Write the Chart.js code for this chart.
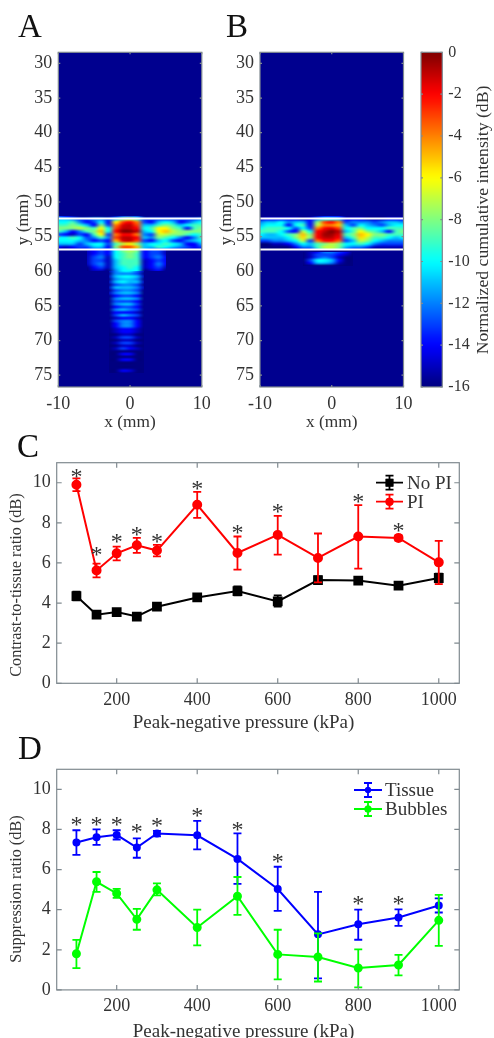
<!DOCTYPE html>
<html>
<head>
<meta charset="utf-8">
<script src="https://cdn.jsdelivr.net/npm/chart.js@4"></script>
<style>
  html, body { margin: 0; padding: 0; background: #fff; }
  #page { position: relative; width: 494px; height: 1038px; overflow: hidden; filter: blur(0.5px); }
  #page canvas { position: absolute; }
  .panel { position: absolute; font: 33px "Liberation Serif", serif; line-height: 33px; color: #111; }
</style>
</head>
<body>
<div id="page">
  <div class="panel" style="left:18px;top:10px">A</div>
  <div class="panel" style="left:226px;top:10px">B</div>
  <div class="panel" style="left:17px;top:430px">C</div>
  <div class="panel" style="left:18px;top:732px">D</div>
  <canvas id="chartA"></canvas>
  <canvas id="chartB"></canvas>
  <canvas id="chartBar"></canvas>
  <canvas id="chartC"></canvas>
  <canvas id="chartD"></canvas>
</div>
<script>
// line chart data (kPa, dB)
const pressures = [100, 150, 200, 250, 300, 400, 500, 600, 700, 800, 900, 1000];
const pressureTicks = [200, 400, 600, 800, 1000];
const ratioTicks = [0, 2, 4, 6, 8, 10];

const noPi = [4.35, 3.42, 3.55, 3.33, 3.82, 4.28, 4.6, 4.08, 5.15, 5.12, 4.87, 5.25];
const noPiLow = [4.13, 3.34, 3.47, 3.25, 3.72, 4.18, 4.38, 3.82, 4.98, 5.0, 4.74, 5.03];
const noPiHigh = [4.57, 3.5, 3.63, 3.41, 3.92, 4.38, 4.83, 4.38, 5.33, 5.24, 5.0, 5.47];
const pi = [9.9, 5.63, 6.48, 6.88, 6.62, 8.9, 6.5, 7.4, 6.25, 7.32, 7.25, 6.03];
const piLow = [9.58, 5.28, 6.13, 6.5, 6.33, 8.25, 5.67, 6.42, 5.03, 5.72, 7.12, 4.95];
const piHigh = [10.22, 5.97, 6.82, 7.25, 6.9, 9.55, 7.32, 8.35, 7.47, 8.88, 7.37, 7.1];
const starsCx = [100, 150, 200, 250, 300, 400, 500, 600, 800, 900];
const starsCy = [10.5, 6.62, 7.25, 7.58, 7.25, 9.88, 7.7, 8.72, 9.25, 7.78];

const tissue = [7.35, 7.61, 7.73, 7.1, 7.8, 7.71, 6.53, 5.03, 2.77, 3.27, 3.61, 4.21];
const tissueLow = [6.73, 7.23, 7.5, 6.59, 7.66, 7.01, 5.29, 3.94, 0.57, 2.5, 3.19, 3.86];
const tissueHigh = [7.96, 8.0, 7.96, 7.56, 7.93, 8.43, 7.8, 6.14, 4.89, 4.0, 4.02, 4.56];
const bubbles = [1.8, 5.39, 4.81, 3.52, 4.99, 3.11, 4.67, 1.77, 1.64, 1.09, 1.24, 3.47];
const bubblesLow = [1.09, 4.89, 4.59, 3.0, 4.71, 2.22, 3.74, 0.52, 0.42, 0.13, 0.72, 2.2];
const bubblesHigh = [2.49, 5.88, 5.04, 4.04, 5.31, 4.0, 5.63, 3.0, 2.82, 2.02, 1.75, 4.74];
const starsDx = [100, 150, 200, 250, 300, 400, 500, 600, 800, 900];
const starsDy = [8.41, 8.41, 8.41, 8.08, 8.36, 8.86, 8.18, 6.59, 4.47, 4.47];

// image panels (mm, dB)
const depthTicks = [30, 35, 40, 45, 50, 55, 60, 65, 70, 75];
const lateralTicks = [-10, 0, 10];
const colorTicks = [0, -2, -4, -6, -8, -10, -12, -14, -16];
const colorLevels = [-16, -15, -14, -13, -12, -11, -10, -9, -8, -7, -6, -5, -4, -3, -2, -1, 0];
const windowTop = [52.4, 52.4];
const windowBottom = [56.85, 56.85];

// x = -10..10 every 1 mm, y = 52.0..56.95 every 0.45 mm
const bandA = [
  [-13,-14,-15,-16,-16,-16,-16,-16,-15,-13,-13,-13,-16,-16,-16,-16,-16,-16,-16,-16,-16],
  [-11,-11,-12,-13,-13,-12,-12,-13,-11,-8,-7,-9,-13,-13,-13,-13,-13,-13,-13,-13,-12],
  [-10,-10,-9,-12,-14,-13,-10,-14,-6,-3,-2,-4,-13,-14,-11,-10,-11,-14,-13,-11,-10],
  [-9,-9,-8,-9,-11,-14,-8,-13,-4,-1.5,-1,-3,-11,-11,-9,-8,-9,-11,-10,-9,-9],
  [-8,-8,-8,-7,-8,-9,-6,-10,-3,-1,-1,-2,-10,-9,-6,-6,-8,-9,-14,-9,-8],
  [-9,-11,-14,-12,-9,-8,-5,-10,-2,0,0,-1,-11,-10,-6,-5,-7,-8,-8,-8,-8],
  [-13,-14,-15,-13,-14,-9,-6,-13,-4,-2,-2,-4,-12,-13,-7,-7,-8,-8,-9,-10,-9],
  [-10,-10,-9,-10,-13,-12,-9,-12,-3,-1,-1,-2,-11,-12,-8,-9,-10,-12,-14,-12,-9],
  [-10,-10,-10,-11,-12,-14,-13,-14,-5,-1.5,-1,-3,-13,-14,-11,-10,-13,-14,-12,-11,-10],
  [-11,-11,-11,-13,-11,-10,-10,-13,-9,-7,-6,-8,-11,-10,-10,-9,-10,-11,-14,-14,-11],
  [-14,-15,-14,-13,-13,-11,-11,-14,-8,-3,-3,-5,-11,-11,-9,-10,-11,-12,-13,-14,-13],
  [-16,-15,-15,-15,-14,-13,-13,-13,-10,-7,-6,-8,-11,-13,-13,-13,-14,-14,-15,-15,-15]
];
const bandB = [
  [-16,-16,-16,-16,-16,-16,-16,-16,-15,-14,-14,-14,-16,-16,-16,-16,-16,-16,-16,-16,-16],
  [-15,-14,-14,-14,-14,-14,-15,-14,-12,-10,-10,-11,-14,-14,-14,-15,-15,-15,-14,-14,-14],
  [-12,-11,-11,-10,-12,-11,-11,-14,-8,-3,-2,-4,-13,-12,-12,-12,-13,-12,-11,-11,-12],
  [-11,-10,-10,-10,-14,-10,-9,-14,-7,-4,-4,-5,-11,-13,-10,-11,-12,-13,-11,-10,-10],
  [-10,-9,-9,-9,-10,-13,-10,-13,-4,-2,-1.5,-3,-10,-9,-8,-10,-10,-10,-9,-9,-9],
  [-9,-9,-9,-10,-13,-14,-7,-10,-2,-1,0,-1,-11,-9,-6,-8,-9,-11,-14,-9,-8],
  [-10,-11,-11,-10,-9,-8,-5,-8,-2,-0.5,-0.5,-1.5,-9,-8,-5,-6,-8,-8,-9,-9,-9],
  [-11,-11,-11,-11,-10,-8,-5.5,-8,-2,-1,-1,-2,-11,-9,-5.5,-7,-9,-9,-10,-11,-10],
  [-13,-13,-12,-12,-11,-10,-7,-13,-4,-2,-2,-3.5,-13,-11,-7,-8,-10,-11,-12,-12,-12],
  [-16,-16,-15,-15,-14,-12,-10,-11,-9,-8,-7,-8,-10,-10,-9,-10,-12,-13,-13,-13,-13],
  [-16,-16,-16,-16,-16,-14,-12,-12,-9,-7,-7,-8,-11,-12,-12,-13,-15,-15,-15,-15,-15],
  [-16,-16,-16,-16,-16,-16,-15,-14,-11,-8,-7,-9,-13,-14,-15,-16,-16,-16,-16,-16,-16]
];
// x = -6..5 every 1 mm, y = 56.95..59.95 every 0.5 mm
const nearA = [
  [-15,-14,-13,-14,-10,-8,-7,-8,-14,-13,-13,-15],
  [-15,-14,-13,-14,-10,-9,-8,-9,-14,-13,-13,-15],
  [-15,-13,-12,-15,-10,-9,-8,-9,-14,-13,-12,-14],
  [-15,-13,-13,-15,-11,-9,-9,-9,-15,-14,-13,-14],
  [-15,-13,-12,-15,-11,-9,-9,-9,-15,-14,-12,-14],
  [-16,-14,-13,-15,-11,-10,-9,-10,-15,-14,-13,-15],
  [-16,-15,-15,-16,-12,-10,-10,-10,-16,-15,-14,-16]
];
// x = -3..2 every 1 mm, y = 59.95..74.75 every 0.4 mm
const tailA = [
  [-15,-12,-10,-10,-12,-15],[-16,-12,-12,-12,-13,-16],[-15,-11,-10,-10,-11,-15],[-16,-12,-11,-11,-12,-16],
  [-15,-11,-10,-11,-11,-15],[-16,-13,-12,-12,-13,-16],[-15,-11,-11,-11,-12,-15],[-16,-13,-12,-12,-13,-16],
  [-15,-12,-11,-11,-12,-16],[-16,-14,-13,-13,-14,-16],[-16,-12,-11,-11,-12,-16],[-16,-13,-13,-13,-14,-16],
  [-16,-12,-11,-11,-13,-16],[-16,-14,-13,-13,-14,-16],[-16,-12,-11,-12,-13,-16],[-16,-14,-14,-14,-15,-16],
  [-16,-13,-11,-12,-13,-16],[-16,-15,-14,-14,-15,-16],[-16,-13,-12,-12,-14,-16],[-16,-14,-12,-12,-14,-16],
  [-16,-14,-12,-12,-14,-16],[-16,-15,-14,-14,-15,-16],[-16,-15,-14,-14,-15,-16],[-16,-16,-15,-15,-16,-16],
  [-16,-15,-13,-13,-15,-16],[-16,-16,-15,-15,-16,-16],[-16,-15,-13,-13,-15,-16],[-16,-16,-15,-15,-16,-16],
  [-16,-15,-13,-14,-15,-16],[-16,-16,-16,-16,-16,-16],[-16,-16,-14,-14,-16,-16],[-16,-16,-16,-16,-16,-16],
  [-16,-16,-14,-14,-16,-16],[-16,-16,-16,-16,-16,-16],[-16,-16,-16,-16,-16,-16],[-16,-16,-16,-16,-16,-16],
  [-16,-16,-14,-14.5,-16,-16],[-16,-16,-16,-16,-16,-16]
];
// x = -4..3 every 1 mm, y = 57.2..59.2 every 0.4 mm
const nearB = [
  [-16,-15,-14,-12,-12,-13,-14,-16],
  [-16,-15,-13,-13,-13,-14,-15,-16],
  [-16,-15,-13,-12,-13,-15,-16,-16],
  [-16,-13,-10,-10,-11,-14,-16,-16],
  [-16,-14,-11,-11,-12,-15,-16,-16],
  [-16,-16,-16,-16,-16,-16,-16,-16]
];

const SERIF = '"Liberation Serif", serif';
const TEXT = '#333';
const BOX = '#808a90';

function jet(v) {
  let t = (v + 16) / 16;
  let ramp = c => Math.max(0, Math.min(1, 1.5 - Math.abs(4 * t - c)));
  return [ramp(3), ramp(2), ramp(1)].map(c => Math.round(c * 255));
}

// paints value grids into the plot, placed with the chart's own scales
function heatPlugin(grids, background) {
  return {
    id: 'heat',
    beforeDatasetsDraw(chart) {
      let { ctx, chartArea: a, scales } = chart;
      ctx.save();
      ctx.fillStyle = background;
      ctx.fillRect(a.left, a.top, a.right - a.left, a.bottom - a.top);
      grids.forEach(g => {
        let rows = g.rows, h = rows.length, w = rows[0].length;
        let off = document.createElement('canvas');
        off.width = w;
        off.height = h;
        let octx = off.getContext('2d');
        let img = octx.createImageData(w, h);
        rows.forEach((row, j) => row.forEach((v, i) => {
          let c = jet(v), k = 4 * (j * w + i);
          img.data[k] = c[0]; img.data[k + 1] = c[1]; img.data[k + 2] = c[2]; img.data[k + 3] = 255;
        }));
        octx.putImageData(img, 0, 0);
        let x0 = scales.x.getPixelForValue(g.x[0]), x1 = scales.x.getPixelForValue(g.x[1]);
        let y0 = scales.y.getPixelForValue(g.y[0]), y1 = scales.y.getPixelForValue(g.y[1]);
        ctx.imageSmoothingEnabled = true;
        ctx.imageSmoothingQuality = 'high';
        ctx.drawImage(off, 0.5, 0.5, w - 1, h - 1, x0, y0, x1 - x0, y1 - y0);
      });
      ctx.restore();
    }
  };
}

// MATLAB style box with ticks pointing inward on all four sides
const boxPlugin = {
  id: 'matlabBox',
  afterDraw(chart) {
    let { ctx, chartArea: a, scales } = chart;
    let len = chart.config.options.tickLen || 4;
    ctx.save();
    ctx.strokeStyle = BOX;
    ctx.lineWidth = 1.2;
    ctx.strokeRect(a.left, a.top, a.right - a.left, a.bottom - a.top);
    ctx.beginPath();
    if (scales.x.options.display) {
      scales.x.ticks.forEach(t => {
        let p = scales.x.getPixelForValue(t.value);
        ctx.moveTo(p, a.top); ctx.lineTo(p, a.top + len);
        ctx.moveTo(p, a.bottom); ctx.lineTo(p, a.bottom - len);
      });
    }
    scales.y.ticks.forEach(t => {
      let p = scales.y.getPixelForValue(t.value);
      ctx.moveTo(a.left, p); ctx.lineTo(a.left + len, p);
      ctx.moveTo(a.right, p); ctx.lineTo(a.right - len, p);
    });
    ctx.stroke();
    ctx.restore();
  }
};

// error bars drawn right after their own series
const errorPlugin = {
  id: 'errorBars',
  afterDatasetDraw(chart, args) {
    let ds = chart.data.datasets[args.index];
    if (!ds.errLow) return;
    let { ctx, scales } = chart;
    ctx.save();
    ctx.strokeStyle = ds.borderColor;
    ctx.lineWidth = 1.8;
    ctx.beginPath();
    ds.data.forEach((d, i) => {
      let x = scales.x.getPixelForValue(d.x);
      let lo = scales.y.getPixelForValue(ds.errLow[i]);
      let hi = scales.y.getPixelForValue(ds.errHigh[i]);
      ctx.moveTo(x, lo); ctx.lineTo(x, hi);
      ctx.moveTo(x - 4, lo); ctx.lineTo(x + 4, lo);
      ctx.moveTo(x - 4, hi); ctx.lineTo(x + 4, hi);
    });
    ctx.stroke();
    ctx.restore();
  }
};

function starPlugin(xs, ys) {
  return {
    id: 'stars',
    afterDatasetsDraw(chart) {
      let { ctx, scales } = chart;
      ctx.save();
      ctx.fillStyle = TEXT;
      ctx.font = '24px ' + SERIF;
      ctx.textAlign = 'center';
      ctx.textBaseline = 'alphabetic';
      xs.forEach((x, i) => {
        ctx.fillText('*', scales.x.getPixelForValue(x), scales.y.getPixelForValue(ys[i]) + 11);
      });
      ctx.restore();
    }
  };
}

// legend inside the plot, each key shows line, error bar and marker
function keyPlugin(x0, x1, textX, rows) {
  return {
    id: 'errorKey',
    afterDraw(chart) {
      let ctx = chart.ctx;
      let cx = (x0 + x1) / 2;
      ctx.save();
      chart.data.datasets.forEach((ds, i) => {
        let y = rows[i];
        ctx.strokeStyle = ds.borderColor;
        ctx.fillStyle = ds.borderColor;
        ctx.lineWidth = 1.8;
        ctx.beginPath();
        ctx.moveTo(x0, y); ctx.lineTo(x1, y);
        ctx.moveTo(cx, y - 7); ctx.lineTo(cx, y + 7);
        ctx.moveTo(cx - 4, y - 7); ctx.lineTo(cx + 4, y - 7);
        ctx.moveTo(cx - 4, y + 7); ctx.lineTo(cx + 4, y + 7);
        ctx.stroke();
        Chart.helpers.drawPoint(ctx, { pointStyle: ds.pointStyle, radius: ds.pointRadius, borderWidth: 0 }, cx, y);
        ctx.fill();
        ctx.fillStyle = TEXT;
        ctx.font = '19px ' + SERIF;
        ctx.textAlign = 'left';
        ctx.textBaseline = 'middle';
        ctx.fillText(ds.label, textX, y + 1);
      });
      ctx.restore();
    }
  };
}

// axis titles that sit off the plot centre, as they do in the figure
function titlePlugin(titles) {
  return {
    id: 'axisTitles',
    afterDraw(chart) {
      let ctx = chart.ctx;
      ctx.save();
      ctx.fillStyle = TEXT;
      ctx.textAlign = 'center';
      ctx.textBaseline = 'middle';
      titles.forEach(t => {
        ctx.save();
        ctx.font = t.size + 'px ' + SERIF;
        ctx.translate(t.x, t.y);
        if (t.up) ctx.rotate(-Math.PI / 2);
        ctx.fillText(t.text, 0, 0);
        ctx.restore();
      });
      ctx.restore();
    }
  };
}

function axis(min, max, tickValues, size, extra) {
  return Object.assign({
    type: 'linear',
    min: min,
    max: max,
    grid: { display: false, drawTicks: false },
    border: { display: false },
    afterBuildTicks: s => { s.ticks = tickValues.map(v => ({ value: v })); },
    ticks: {
      color: TEXT,
      font: { family: SERIF, size: size },
      padding: 6,
      maxRotation: 0,
      minRotation: 0,
      autoSkip: false,
      callback: v => String(v)
    }
  }, extra);
}

function place(id, left, top, w, h) {
  let c = document.getElementById(id);
  c.style.left = left + 'px';
  c.style.top = top + 'px';
  c.style.width = w + 'px';
  c.style.height = h + 'px';
  c.width = w;
  c.height = h;
  return c;
}

function imagePanel(id, left, grids) {
  let plotLeft = left === 0 ? 58.3 : 260 - left;
  // canvas is roomier than the plot so tick labels never push the plot area in
  new Chart(place(id, left, 0, 240, 440), {
    type: 'scatter',
    data: {
      datasets: [
        { data: lateralTicks.filter(v => v !== 0).map((x, i) => ({ x: x, y: windowTop[i] })), showLine: true, borderColor: '#fff', borderWidth: 2, pointRadius: 0 },
        { data: lateralTicks.filter(v => v !== 0).map((x, i) => ({ x: x, y: windowBottom[i] })), showLine: true, borderColor: '#fff', borderWidth: 2, pointRadius: 0 }
      ]
    },
    options: {
      responsive: false,
      animation: false,
      tickLen: 2,
      layout: { autoPadding: false, padding: { top: 52.3, right: 240 - plotLeft - 143.5, bottom: 0, left: 0 } },
      plugins: { legend: { display: false }, tooltip: { enabled: false } },
      scales: {
        x: axis(-10, 10, lateralTicks, 18, {
          afterFit: s => { s.height = 53; },
          title: { display: true, text: 'x (mm)', color: TEXT, font: { family: SERIF, size: 17.3 }, padding: { top: 0, bottom: 7 } }
        }),
        y: axis(28.4, 76.7, depthTicks, 18, {
          reverse: true,
          afterFit: s => { s.width = plotLeft; },
          title: { display: true, text: 'y (mm)', color: TEXT, font: { family: SERIF, size: 17.3 }, padding: { top: left === 0 ? 13 : 1, bottom: 0 } }
        })
      }
    },
    plugins: [heatPlugin(grids, '#00008f'), boxPlugin]
  });
}

imagePanel('chartA', 0, [
  { rows: bandA, x: [-10, 10], y: [52.0, 56.95] },
  { rows: nearA, x: [-6, 5], y: [56.95, 59.95] },
  { rows: tailA, x: [-3, 2], y: [59.95, 74.75] }
]);
imagePanel('chartB', 215, [
  { rows: bandB, x: [-10, 10], y: [52.0, 56.95] },
  { rows: nearB, x: [-4, 3], y: [57.2, 59.2] }
]);

// colour bar
new Chart(place('chartBar', 400, 0, 94, 440), {
  type: 'scatter',
  data: { datasets: [] },
  options: {
    responsive: false,
    animation: false,
    tickLen: 2,
    layout: { autoPadding: false, padding: { top: 52.3, right: 0, bottom: 53, left: 21 } },
    plugins: { legend: { display: false }, tooltip: { enabled: false } },
    scales: {
      x: { type: 'linear', display: false, min: 0, max: 1 },
      y: axis(-16, 0, colorTicks, 16, { position: 'right', afterFit: s => { s.width = 51.7; } })
    }
  },
  plugins: [
    heatPlugin([{ rows: colorLevels.slice().reverse().map(v => [v, v]), x: [0, 1], y: [0, -16] }], '#00008f'),
    boxPlugin,
    titlePlugin([{ text: 'Normalized cumulative intensity (dB)', size: 17.7, x: 83, y: 220, up: true }])
  ]
});

function linePanel(id, top, h, plotTop, series, stars, key, yTitle, xTitleY) {
  new Chart(place(id, 0, top, 494, h), {
    type: 'scatter',
    data: { datasets: series },
    options: {
      responsive: false,
      animation: false,
      tickLen: 5,
      layout: { autoPadding: false, padding: { top: plotTop, right: 34.7, bottom: 0, left: 0 } },
      plugins: { legend: { display: false }, tooltip: { enabled: false } },
      scales: {
        x: axis(51, 1051, pressureTicks, 18, { afterFit: s => { s.height = h - plotTop - 220.6; } }),
        y: axis(0, 11, ratioTicks, 18, { afterFit: s => { s.width = 56.7; } })
      }
    },
    plugins: [errorPlugin, boxPlugin, starPlugin(stars[0], stars[1]), keyPlugin(key[0], key[1], key[2], key[3]), titlePlugin([
      { text: yTitle[0], size: 16.3, x: 17, y: yTitle[1], up: true },
      { text: 'Peak-negative pressure (kPa)', size: 19, x: 243.5, y: xTitleY }
    ])]
  });
}

function series(label, values, low, high, color, style, radius, order) {
  return {
    label: label,
    data: pressures.map((x, i) => ({ x: x, y: values[i] })),
    errLow: low,
    errHigh: high,
    showLine: true,
    borderColor: color,
    backgroundColor: color,
    borderWidth: 2,
    pointStyle: style,
    pointRadius: radius,
    pointBackgroundColor: color,
    pointBorderColor: color,
    order: order
  };
}

linePanel('chartC', 435, 300, 27.7, [
  series('No PI', noPi, noPiLow, noPiHigh, '#000', 'rect', 5.5, 2),
  series('PI', pi, piLow, piHigh, '#f00', 'circle', 4, 1)
], [starsCx, starsCy], [376, 403, 407, [47.7, 66.7]], ['Contrast-to-tissue ratio (dB)', 150], 288);

linePanel('chartD', 745, 293, 24.3, [
  series('Tissue', tissue, tissueLow, tissueHigh, '#00f', 'circle', 3, 2),
  series('Bubbles', bubbles, bubblesLow, bubblesHigh, '#0f0', 'circle', 3.5, 1)
], [starsDx, starsDy], [354, 382, 385, [45, 64]], ['Suppression ratio (dB)', 144], 287);
</script>
</body>
</html>
